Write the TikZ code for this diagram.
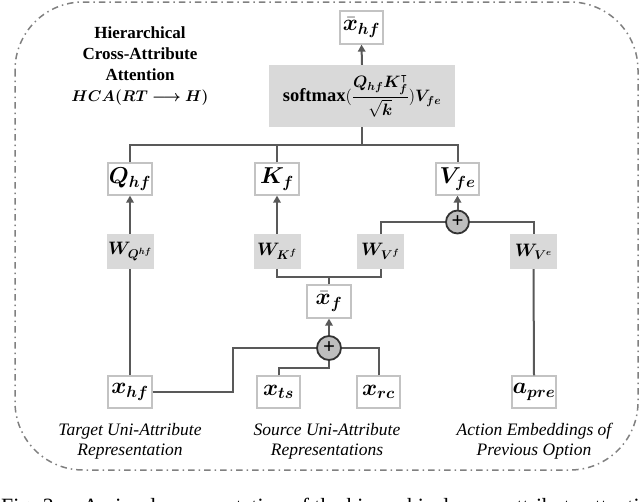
\RequirePackage{fix-cm}
\documentclass[tikz,border=0pt]{standalone}
\usepackage{amsmath,amssymb,bm}
\usepackage{fontspec}
\setmainfont{Liberation Serif}
\usetikzlibrary{arrows.meta,calc}
\definecolor{lineg}{RGB}{89,89,89}
\definecolor{boxline}{RGB}{195,195,195}
\definecolor{boxfill}{RGB}{217,217,217}
\definecolor{plusfill}{RGB}{190,190,190}
\definecolor{plusline}{RGB}{50,50,50}
\definecolor{borderg}{RGB}{128,128,128}
\newcommand\boxmathfont{\fontsize{23}{27}\selectfont}
\newcommand\wmathfont{\fontsize{18}{21}\selectfont}
\tikzset{
  wbox/.style={draw=boxline, line width=1.3pt, fill=white, minimum width=44pt, minimum height=32pt, inner sep=0pt, font=\boxmathfont},
  gbox/.style={fill=boxfill, minimum width=47pt, minimum height=35pt, inner sep=0pt, font=\wmathfont},
  conn/.style={draw=lineg, line width=2pt},
  arr/.style={conn, -{Triangle[length=7pt,width=7.5pt]}},
  plusc/.style={circle, draw=plusline, line width=1.8pt, fill=plusfill, minimum size=23pt, inner sep=0pt, font=\bfseries\fontsize{21}{21}\selectfont},
  lbl/.style={align=center, inner sep=0pt, font=\itshape\fontsize{17.5}{20}\selectfont},
  captext/.style={anchor=base west, inner sep=0pt, font=\fontsize{21.8}{24}\selectfont}
}
\begin{document}
\begin{tikzpicture}[x=1pt,y=-1pt]
\useasboundingbox (0,0) rectangle (640,501);
\clip (0,0) rectangle (640,501);
% border
\draw[draw=borderg, line width=1.5pt, dash pattern=on 6.5pt off 4pt on 1.5pt off 4pt, rounded corners=68pt] (15,2) rectangle (638,470);
% title
\node[align=center, inner sep=0pt, font=\bfseries\fontsize{17}{21}\selectfont] (title) at (140,66) {Hierarchical\\Cross-Attribute\\Attention\\{\fontsize{15.5}{21}\selectfont$\bm{HCA(RT\longrightarrow H)}$}};
% nodes
\node[wbox, minimum width=43pt, minimum height=33pt] (xhfbar) at (361.5,27.5) {$\bar{\bm{x}}_{\bm{hf}}$};
\node[gbox, minimum width=186pt, minimum height=62pt, font=\bfseries\fontsize{18.5}{20}\selectfont] (soft) at (362,96) {softmax{\fontsize{16.5}{18}\selectfont$(\dfrac{\bm{Q}_{\bm{hf}}\bm{K}_{\bm{f}}^{\intercal}}{\sqrt{\bm{k}}})\bm{V}_{\bm{fe}}$}};
\node[wbox] (Q) at (130,179) {$\bm{Q}_{\bm{hf}}$};
\node[wbox] (K) at (277,179) {$\bm{K}_{\bm{f}}$};
\node[wbox, minimum width=43pt] (V) at (457.5,179) {$\bm{V}_{\bm{fe}}$};
\node[gbox] (WQ) at (130,251.5) {$\bm{W}_{\bm{Q^{hf}}}$};
\node[gbox] (WK) at (277,251.5) {$\bm{W}_{\bm{K^{f}}}$};
\node[gbox] (WVf) at (380.5,251.5) {$\bm{W}_{\bm{V^{f}}}$};
\node[gbox] (WVe) at (533.5,251.5) {$\bm{W}_{\bm{V^{e}}}$};
\node[plusc] (p1) at (457.5,222) {+};
\node[wbox, minimum height=33pt] (xf) at (329,301.5) {$\bar{\bm{x}}_{\bm{f}}$};
\node[plusc, minimum size=24pt] (p2) at (329,348) {+};
\node[wbox] (xhf) at (130,392) {$\bm{x}_{\bm{hf}}$};
\node[wbox, minimum width=43pt] (xts) at (278.5,392) {$\bm{x}_{\bm{ts}}$};
\node[wbox, minimum width=43pt] (xrc) at (378.5,392) {$\bm{x}_{\bm{rc}}$};
\node[wbox] (apre) at (534,392) {$\bm{a}_{\bm{pre}}$};
% labels
\node[lbl] (l1) at (130,441) {Target Uni-Attribute\\Representation};
\node[lbl] (l2) at (327,441) {Source Uni-Attribute\\Representations};
\node[lbl] (l3) at (534,441) {Action Embeddings of\\Previous Option};
% caption
\node[captext] (c1) at (1,513) {Fig. 3.};
\node[captext] (c2) at (83,513) {A visual representation of the hierarchical cross-attribute attention};
% connectors
\coordinate (bus) at (362,145);
\coordinate (b2) at (329,277);
\coordinate (k1) at (233,348);
\coordinate (k2) at (329,368);
\draw[arr] (soft.north) -- (xhfbar.south);
\draw[conn] (Q.north) |- (bus) -| (V.north);
\draw[conn] (K.north) -- (K.north |- bus);
\draw[conn] (soft.south) -- (bus);
\draw[arr] (WQ.north) -- (Q.south);
\draw[arr] (WK.north) -- (K.south);
\draw[arr] (p1.north) -- (V.south);
\draw[conn] (WVf.north) |- (p1.west);
\draw[conn] (WVe.north) |- (p1.east);
\draw[conn] (xhf.north) -- (WQ.south);
\draw[conn] (WK.south) |- (b2) -| (WVf.south);
\draw[conn] (xf.north) -- (b2);
\draw[arr] (p2.north) -- (xf.south);
\draw[conn] (xhf.east) -| (k1) -- (p2.west);
\draw[conn] (xrc.north) |- (p2.east);
\draw[conn] (xts.north) |- (k2) -- (p2.south);
\draw[conn] (apre.north) -- (WVe.south);
\end{tikzpicture}
\end{document}
